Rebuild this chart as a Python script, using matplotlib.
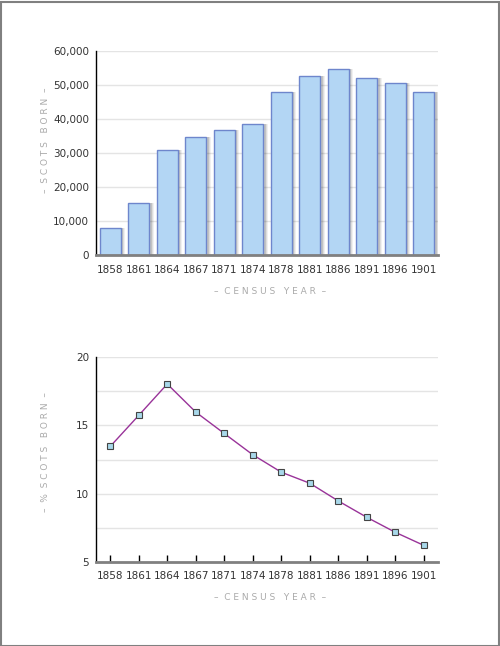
import matplotlib
matplotlib.use("Agg")
import matplotlib.pyplot as plt
from matplotlib.ticker import FuncFormatter, MultipleLocator
from matplotlib.patches import Rectangle

years = ["1858", "1861", "1864", "1867", "1871", "1874",
         "1878", "1881", "1886", "1891", "1896", "1901"]
scots_born = [7900, 15400, 30800, 34600, 36800, 38400,
              47800, 52700, 54800, 52000, 50600, 47900]
pct_scots = [13.46, 15.74, 18.04, 15.98, 14.41, 12.85,
             11.57, 10.76, 9.46, 8.26, 7.16, 6.2]

W, H = 500, 646
fig = plt.figure(figsize=(W / 100, H / 100), dpi=100)
fig.patch.set_facecolor("white")

# outer frame
fig.add_artist(Rectangle((0.5 / W, 0.5 / H), (W - 2) / W, (H - 2) / H,
                         transform=fig.transFigure, fill=False,
                         edgecolor="#808080", linewidth=1.5))

def fx(px):
    return px / W

def fy(py):
    return 1 - py / H

tick_color = "#333333"
label_color = "#AAAAAA"
grid_color = "#E4E4E4"
fs = 7.5
x = list(range(len(years)))

# ---------------- Top bar chart ----------------
ax1 = fig.add_axes([fx(96), fy(255), fx(438 - 96), (255 - 51) / H])
for off, a in [(0.16, 0.06), (0.12, 0.08), (0.08, 0.12), (0.04, 0.15)]:
    ax1.bar([i + off for i in x], scots_born, width=0.74, color="#000000",
            alpha=a, linewidth=0, zorder=2)
ax1.bar(x, scots_born, width=0.74, color="#B3D6F4", edgecolor="#6E86CC",
        linewidth=1, zorder=3)
ax1.set_xlim(-0.5, 11.5)
ax1.set_ylim(0, 60000)
ax1.yaxis.set_major_locator(MultipleLocator(10000))
ax1.yaxis.set_major_formatter(FuncFormatter(lambda v, p: f"{int(v):,}"))
ax1.set_xticks(x)
ax1.set_xticklabels(years)
ax1.grid(axis="y", color=grid_color, linewidth=1, zorder=0)
ax1.set_axisbelow(True)
for s in ["top", "right"]:
    ax1.spines[s].set_visible(False)
ax1.spines["left"].set_color("black")
ax1.spines["left"].set_linewidth(1)
ax1.spines["bottom"].set_color("#808080")
ax1.spines["bottom"].set_linewidth(2)
ax1.spines["bottom"].set_zorder(5)
ax1.tick_params(axis="x", length=0, pad=7, labelsize=fs, labelcolor=tick_color)
ax1.tick_params(axis="y", length=0, pad=5, labelsize=fs, labelcolor=tick_color)

fig.text(fx(45), fy(140), "–  S C O T S   B O R N  –", rotation=90,
         ha="center", va="center", fontsize=6.5, color=label_color)
fig.text(fx(270), fy(292), "–  C E N S U S   Y E A R  –",
         ha="center", va="center", fontsize=6.5, color=label_color)

# ---------------- Bottom line chart ----------------
ax2 = fig.add_axes([fx(96), fy(561.7), fx(438 - 96), (561.7 - 357.3) / H])
ax2.plot(x, pct_scots, color="#993399", linewidth=1, marker="s",
         markersize=4.5, markerfacecolor="#A8D8EA", markeredgecolor="#444444",
         markeredgewidth=0.8, zorder=3)
ax2.set_xlim(-0.5, 11.5)
ax2.set_ylim(5, 20)
ax2.yaxis.set_major_locator(MultipleLocator(5))
ax2.yaxis.set_minor_locator(MultipleLocator(2.5))
ax2.set_xticks(x)
ax2.set_xticklabels(years)
ax2.grid(axis="y", which="both", color=grid_color, linewidth=1, zorder=0)
ax2.set_axisbelow(True)
for s in ["top", "right"]:
    ax2.spines[s].set_visible(False)
ax2.spines["left"].set_color("black")
ax2.spines["left"].set_linewidth(1)
ax2.spines["bottom"].set_color("#808080")
ax2.spines["bottom"].set_linewidth(2)
ax2.tick_params(axis="x", direction="in", length=5, width=1, color="black",
                pad=7, labelsize=fs, labelcolor=tick_color)
ax2.tick_params(axis="y", which="both", length=0, pad=5, labelsize=fs,
                labelcolor=tick_color)

fig.text(fx(45), fy(452), "–  %  S C O T S   B O R N  –", rotation=90,
         ha="center", va="center", fontsize=6.5, color=label_color)
fig.text(fx(270), fy(598), "–  C E N S U S   Y E A R  –",
         ha="center", va="center", fontsize=6.5, color=label_color)

fig.savefig("out.png", dpi=100, facecolor="white")
